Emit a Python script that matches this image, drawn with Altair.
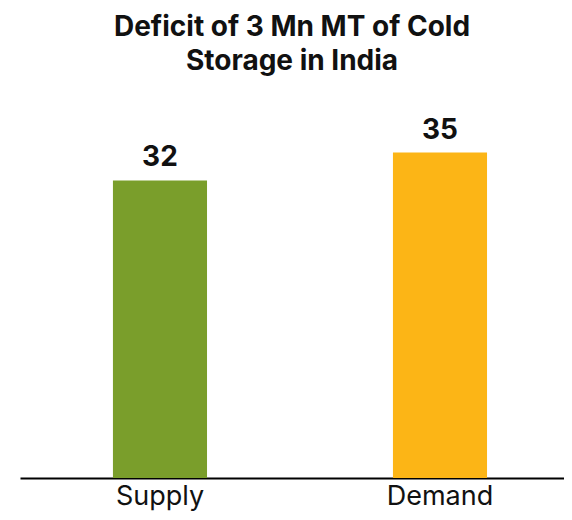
import altair as alt
import pandas as pd

categories = ["Supply", "Demand"]
values = [32, 35]
colors = ["#7A9E2B", "#FCB516"]

df = pd.DataFrame({"category": categories, "value": values, "color": colors})

FONT = "Inter"

base = alt.Chart(df).encode(
    x=alt.X(
        "category:N",
        sort=categories,
        scale=alt.Scale(paddingInner=0.664, paddingOuter=0.3034, align=0.547),
        axis=alt.Axis(
            title=None,
            labelAngle=0,
            labelFont=FONT,
            labelFontSize=27,
            labelColor="#111111",
            labelBaseline="alphabetic",
            labelPadding=26,
            ticks=False,
            domainColor="#000000",
            domainWidth=2,
            grid=False,
        ),
    ),
    y=alt.Y(
        "value:Q",
        scale=alt.Scale(domain=[0, 40], nice=False),
        axis=None,
    ),
)

bars = base.mark_bar().encode(color=alt.Color("color:N", scale=None))

labels = base.mark_text(
    baseline="bottom", dy=-8, font=FONT, fontSize=28, fontWeight="bold", color="#111111"
).encode(text="value:Q")

chart = (
    (bars + labels)
    .properties(
        width=544,
        height=372,
        padding={"left": 12, "right": 0, "top": 98, "bottom": 34},
        autosize=alt.AutoSizeParams(type="none"),
        title=alt.TitleParams(
            text=["Deficit of 3 Mn MT of Cold", "Storage in India"],
            font=FONT,
            fontSize=28,
            fontWeight="bold",
            color="#111111",
            anchor="middle",
            lineHeight=34,
            offset=30,
        ),
    )
    .configure_view(stroke=None)
)

chart.save("out.html", embed_options={"renderer": "svg", "actions": False})
